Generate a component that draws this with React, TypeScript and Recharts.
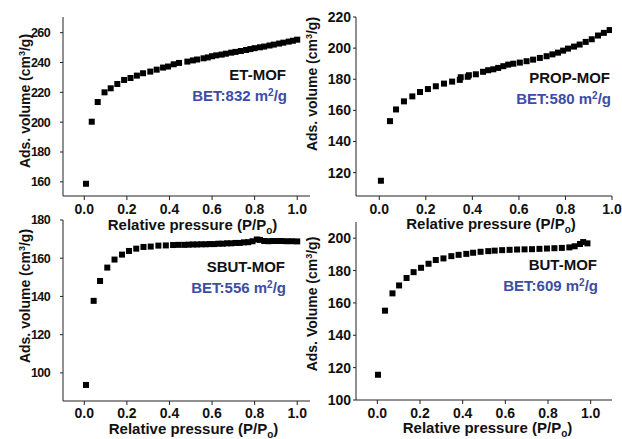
import React from "react";
import { ScatterChart, Scatter, XAxis, YAxis } from "recharts";

// ET-MOF isotherm
const etX = [0.008, 0.035, 0.063, 0.095, 0.124, 0.155, 0.187, 0.217, 0.247, 0.276, 0.31, 0.34, 0.37, 0.393, 0.42, 0.445, 0.484, 0.51, 0.53, 0.56, 0.58, 0.6, 0.62, 0.645, 0.665, 0.69, 0.71, 0.735, 0.76, 0.78, 0.8, 0.825, 0.845, 0.87, 0.89, 0.915, 0.935, 0.96, 0.98, 1.0];
const etY = [158.7, 200.3, 213.5, 220, 222.7, 225.6, 228.3, 229.6, 231.2, 232.8, 233.9, 235.2, 236.6, 237.3, 238.8, 239.7, 240.6, 241.4, 242, 242.8, 243.4, 244.2, 244.8, 245.3, 245.9, 246.6, 247.1, 247.7, 248.4, 249, 249.6, 250.2, 250.7, 251.4, 252, 252.7, 253.3, 254, 254.6, 255.3];

// PROP-MOF isotherm
const propX = [0.007, 0.046, 0.072, 0.106, 0.142, 0.175, 0.209, 0.243, 0.278, 0.313, 0.346, 0.35, 0.38, 0.385, 0.415, 0.446, 0.468, 0.49, 0.511, 0.533, 0.554, 0.576, 0.604, 0.633, 0.661, 0.69, 0.719, 0.744, 0.768, 0.79, 0.811, 0.837, 0.861, 0.887, 0.913, 0.94, 0.965, 0.99];
const propY = [114.8, 153.1, 160.6, 165.8, 169, 171.8, 173.7, 175.5, 177.2, 178.5, 179.6, 181.3, 181.6, 182.6, 183.2, 184.8, 185.8, 186.4, 187.3, 188.4, 189.4, 190, 190.7, 191.6, 192.6, 193.7, 194.8, 196, 197.1, 198.4, 199.7, 201, 202.3, 204, 205.7, 208.1, 209.8, 211.6];

// SBUT-MOF isotherm
const sbutX = [0.008, 0.044, 0.074, 0.108, 0.142, 0.177, 0.21, 0.244, 0.278, 0.312, 0.348, 0.383, 0.417, 0.443, 0.47, 0.49, 0.51, 0.53, 0.55, 0.57, 0.59, 0.61, 0.63, 0.65, 0.67, 0.69, 0.71, 0.73, 0.75, 0.77, 0.79, 0.81, 0.825, 0.845, 0.865, 0.885, 0.905, 0.925, 0.95, 0.975, 1.0];
const sbutY = [93.7, 137.7, 148.1, 155.1, 159.3, 161.9, 163.8, 165, 165.9, 166.1, 166.6, 166.7, 166.9, 167, 167, 167.1, 167.2, 167.2, 167.3, 167.3, 167.4, 167.4, 167.6, 167.6, 167.8, 167.8, 168, 168, 168.3, 168.4, 168.9, 169.8, 169.6, 169, 168.9, 169, 169, 169, 168.9, 168.9, 168.8];

// BUT-MOF isotherm
const butX = [0.003, 0.036, 0.071, 0.102, 0.137, 0.17, 0.205, 0.24, 0.274, 0.31, 0.347, 0.381, 0.417, 0.449, 0.484, 0.52, 0.55, 0.585, 0.62, 0.655, 0.69, 0.725, 0.76, 0.795, 0.83, 0.865, 0.9, 0.925, 0.95, 0.965, 0.985];
const butY = [115.6, 155.2, 165.9, 170.8, 175.4, 179, 181.7, 184.2, 186.5, 187.5, 188.9, 189.7, 190.3, 191, 191.6, 192, 192.3, 192.6, 192.8, 193, 193.1, 193.2, 193.4, 193.6, 193.8, 194, 194.3, 195, 196.4, 197.6, 196.8];

const xTicks = [0, 0.2, 0.4, 0.6, 0.8, 1.0];
const etTicks = [160, 180, 200, 220, 240, 260];
const propTicks = [120, 140, 160, 180, 200, 220];
const sbutTicks = [100, 120, 140, 160, 180];
const butTicks = [100, 120, 140, 160, 180, 200];

const FONT = '"Liberation Sans", Arial, sans-serif';
const BLUE = "#3d4ca6";
const INK = "#111";

const toPoints = (xs: number[], ys: number[]) => xs.map((x, i) => ({ x, y: ys[i] }));

const Square = (props: any) => {
  const { cx, cy } = props;
  if (cx == null || cy == null) return null;
  return <rect x={cx - 3} y={cy - 3} width={6} height={6} fill="#000" />;
};

const YTitle = ({ px, py, cap }: any) => (
  <text
    x={px}
    y={py}
    transform={`rotate(-90 ${px} ${py})`}
    textAnchor="middle"
    fontFamily={FONT}
    fontWeight="bold"
    fontSize={14}
    fill={INK}
  >
    {cap ? "Ads. Volume (cm" : "Ads. volume (cm"}
    <tspan dy={-5} fontSize={9}>3</tspan>
    <tspan dy={5}>/g)</tspan>
  </text>
);

const XTitle = ({ px, py }: any) => (
  <text x={px} y={py} textAnchor="middle" fontFamily={FONT} fontWeight="bold" fontSize={15} fill={INK}>
    Relative pressure (P/P
    <tspan dy={4} fontSize={10}>o</tspan>
    <tspan dy={-4}>)</tspan>
  </text>
);

interface PanelProps {
  box: number[]; // left, top, width, height (page)
  plot: number[]; // left, top, right, bottom (page)
  data: { x: number; y: number }[];
  xDomain: number[];
  yDomain: number[];
  yTicks: number[];
  yGap: number;
  xGap: number;
  yTitle: number[];
  xTitle: number[];
  narrow?: boolean;
  cap?: boolean;
}

const tickStyle = { fill: INK, fontSize: 14, fontWeight: "bold", fontFamily: FONT };
const narrowTick = { fill: INK, fontSize: 12.5, fontWeight: "bold", fontFamily: FONT, letterSpacing: -0.6 };

const Panel = ({ box, plot, data, xDomain, yDomain, yTicks, yGap, xGap, yTitle, xTitle, narrow, cap }: PanelProps) => {
  const [bx, by, bw, bh] = box;
  const [pl, pt, pr, pb] = plot;
  return (
    <div style={{ position: "absolute", left: bx, top: by }}>
      <ScatterChart
        width={bw}
        height={bh}
        margin={{ top: pt - by, right: bx + bw - pr, bottom: 0, left: 0 }}
      >
        <XAxis
          type="number"
          dataKey="x"
          domain={xDomain}
          ticks={xTicks}
          interval={0}
          allowDataOverflow
          height={by + bh - pb}
          tickSize={4}
          tickMargin={xGap}
          tick={tickStyle}
          tickFormatter={(v: number) => v.toFixed(1)}
          stroke="#222"
          label={<XTitle px={xTitle[0] - bx} py={xTitle[1] - by} />}
        />
        <YAxis
          type="number"
          dataKey="y"
          domain={yDomain}
          ticks={yTicks}
          interval={0}
          allowDataOverflow
          width={pl - bx}
          tickSize={3}
          tickMargin={yGap}
          tick={narrow ? narrowTick : tickStyle}
          stroke="#222"
          label={<YTitle px={yTitle[0] - bx} py={yTitle[1] - by} cap={cap} />}
        />
        <Scatter data={data} shape={Square} isAnimationActive={false} />
      </ScatterChart>
    </div>
  );
};

const Note = ({ x, y, name, bet }: any) => (
  <g fontFamily={FONT} fontWeight="bold" textAnchor="end">
    <text x={x} y={y} fontSize={15} fill={INK}>{name}</text>
    <text x={x + 1} y={y + 20.5} fontSize={15} fill={BLUE}>
      {`BET:${bet} m`}
      <tspan dy={-5} fontSize={10}>2</tspan>
      <tspan dy={5}>/g</tspan>
    </text>
  </g>
);

export default function App() {
  return (
    <div style={{ position: "absolute", left: 0, top: 0, width: 622, height: 439, background: "#fff" }}>
      <Panel
        box={[0, 0, 312, 240]}
        plot={[63, 17, 310, 196]}
        data={toPoints(etX, etY)}
        xDomain={[-0.1, 1.06]}
        yDomain={[150.5, 270.5]}
        yTicks={etTicks}
        yGap={10}
        xGap={4}
        yTitle={[30, 101]}
        xTitle={[192.5, 230]}
        narrow
      />
      <Panel
        box={[300, 0, 322, 240]}
        plot={[356, 17, 612, 196]}
        data={toPoints(propX, propY)}
        xDomain={[-0.1, 1.0]}
        yDomain={[105, 220]}
        yTicks={propTicks}
        yGap={2}
        xGap={4}
        yTitle={[317, 84]}
        xTitle={[491, 229]}
      />
      <Panel
        box={[0, 200, 312, 239]}
        plot={[63, 220, 310, 401]}
        data={toPoints(sbutX, sbutY)}
        xDomain={[-0.1, 1.06]}
        yDomain={[85.3, 180]}
        yTicks={sbutTicks}
        yGap={10}
        xGap={3}
        yTitle={[30, 296]}
        xTitle={[193.5, 434]}
        narrow
      />
      <Panel
        box={[300, 200, 322, 239]}
        plot={[356, 222, 612, 400]}
        data={toPoints(butX, butY)}
        xDomain={[-0.1, 1.1]}
        yDomain={[100, 210]}
        yTicks={butTicks}
        yGap={2}
        xGap={4}
        yTitle={[317, 304]}
        xTitle={[487.5, 432.5]}
        cap
      />
      <svg width={622} height={439} style={{ position: "absolute", left: 0, top: 0, pointerEvents: "none" }}>
        <Note x={286} y={80} name="ET-MOF" bet="832" />
        <Note x={610} y={83} name="PROP-MOF" bet="580" />
        <Note x={285} y={272} name="SBUT-MOF" bet="556" />
        <Note x={597} y={270} name="BUT-MOF" bet="609" />
      </svg>
    </div>
  );
}
